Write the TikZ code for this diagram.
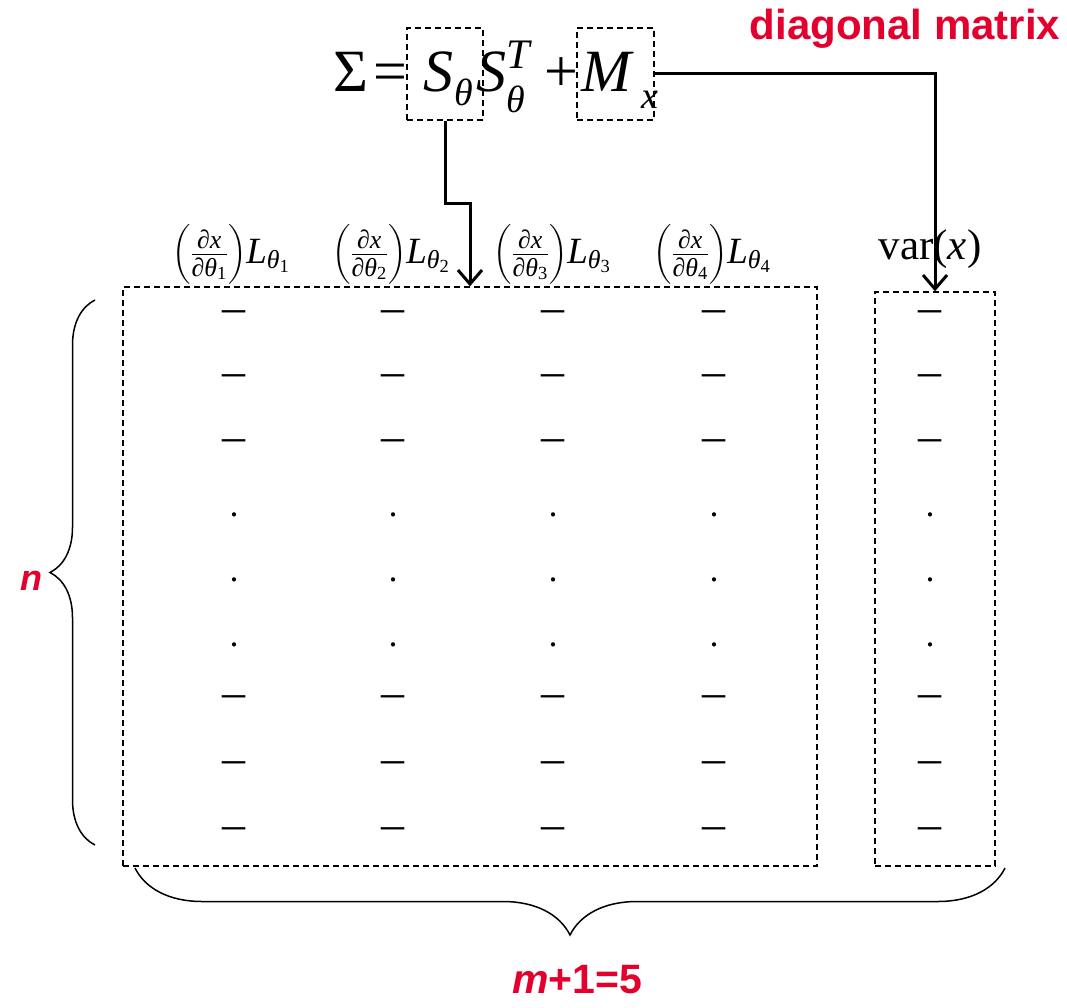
\RequirePackage{fix-cm}
\documentclass[tikz,border=0pt]{standalone}
\usepackage{amsmath}
\usepackage{fontspec}
\setmainfont{Liberation Serif}
\newfontfamily\redsans{Liberation Sans}
\usetikzlibrary{arrows.meta,decorations.pathreplacing}
\definecolor{redlab}{RGB}{227,0,45}
\newcommand{\ti}[1]{\text{\itshape #1}}
\newcommand{\lsub}[2]{\lower#1\hbox{\fontsize{38}{38}\selectfont\itshape #2}}
\begin{document}
\begin{tikzpicture}[x=1pt,y=-1pt,
  dbox/.style={draw,dash pattern=on 6pt off 4pt,line width=1.3pt,inner sep=0pt},
  conn/.style={line width=3pt,-{Straight Barb[length=14pt,width=24pt]}},
  eqtxt/.style={font=\fontsize{60}{72}\selectfont,inner sep=0pt},
  hdr/.style={font=\fontsize{37}{44}\selectfont,inner sep=0pt},
  ent/.style={font=\fontsize{46}{56}\selectfont,inner sep=0pt,anchor=base},
  dotn/.style={font=\fontsize{36}{42}\selectfont,inner sep=0pt,anchor=base},
  redlbl/.style={font=\redsans\bfseries,text=redlab,inner sep=0pt},
  bracestyle/.style={line width=1.5pt,decorate}
]
\useasboundingbox (0,0) rectangle (1067,1008);

% top equation
\node[eqtxt,anchor=base] (sig) at (370,92) {Σ\kern5pt=};
\node[dbox,minimum width=76pt,minimum height=92pt] (sth) at (445,74) {};
\node[eqtxt,anchor=base] (s1) at (448,92) {\textit{S}\kern1pt\lsub{14pt}{θ}};
\node[eqtxt,anchor=base] (s2) at (503,92) {$\ti{S}^{\ti{T}}_{\lsub{6pt}{θ}}$};
\node[eqtxt,anchor=base] (plus) at (561,92) {+};
\node[dbox,minimum width=77pt,minimum height=92pt] (mx) at (615.5,74) {};
\node[eqtxt,anchor=base] (m1) at (620,92) {\textit{M}\kern8pt\lsub{17pt}{x}};

\node[redlbl,font=\redsans\bfseries\fontsize{42}{50}\selectfont,anchor=base] (diag) at (905,40) {diagonal matrix};

% boxes
\node[dbox,minimum width=694pt,minimum height=579pt] (mainbox) at (470,576.5) {};
\node[dbox,minimum width=120pt,minimum height=574pt] (varbox) at (935,579) {};

% headers
\node[hdr] (h1) at (231,254) {$\left(\frac{\ti{∂x}}{\ti{∂θ}_{\text{1}}}\right)\!\ti{L}_{\ti{θ}_{\text{1}}}$};
\node[hdr] (h2) at (391,254) {$\left(\frac{\ti{∂x}}{\ti{∂θ}_{\text{2}}}\right)\!\ti{L}_{\ti{θ}_{\text{2}}}$};
\node[hdr] (h3) at (552,254) {$\left(\frac{\ti{∂x}}{\ti{∂θ}_{\text{3}}}\right)\!\ti{L}_{\ti{θ}_{\text{3}}}$};
\node[hdr] (h4) at (712,254) {$\left(\frac{\ti{∂x}}{\ti{∂θ}_{\text{4}}}\right)\!\ti{L}_{\ti{θ}_{\text{4}}}$};
\node[hdr,font=\fontsize{43}{50}\selectfont,anchor=base] (var) at (930,259) {var(\textit{x})};

% entries
\foreach \c [count=\i] in {234,393,553,714,930} {
  \foreach \r [count=\j] in {312,376,441,697,763,829}
    \node[ent] (d\i-\j) at (\c,\r+10.5) {–};
  \foreach \r [count=\j] in {516,581,646}
    \node[dotn] (p\i-\j) at (\c,\r) {.};
}

% connectors
\draw[conn] (mx.east) -| (varbox.north);
\draw[conn] (sth.south) -- ++(0,83) -| (mainbox.north);

% braces
\coordinate (lb1) at (95,845);
\coordinate (lb2) at (95,300);
\draw[bracestyle,decoration={brace,amplitude=45pt}] (lb1) -- (lb2);
\node[redlbl,font=\redsans\bfseries\itshape\fontsize{36}{44}\selectfont,anchor=base] (nlbl) at (31,590) {n};

\coordinate (bb1) at (1005,868);
\coordinate (bb2) at (135,868);
\draw[bracestyle,decoration={brace,amplitude=67pt}] (bb1) -- (bb2);
\node[redlbl,font=\redsans\bfseries\fontsize{41}{50}\selectfont,anchor=base] (mlbl) at (577,993) {\textit{m}+1=5};
\end{tikzpicture}
\end{document}
